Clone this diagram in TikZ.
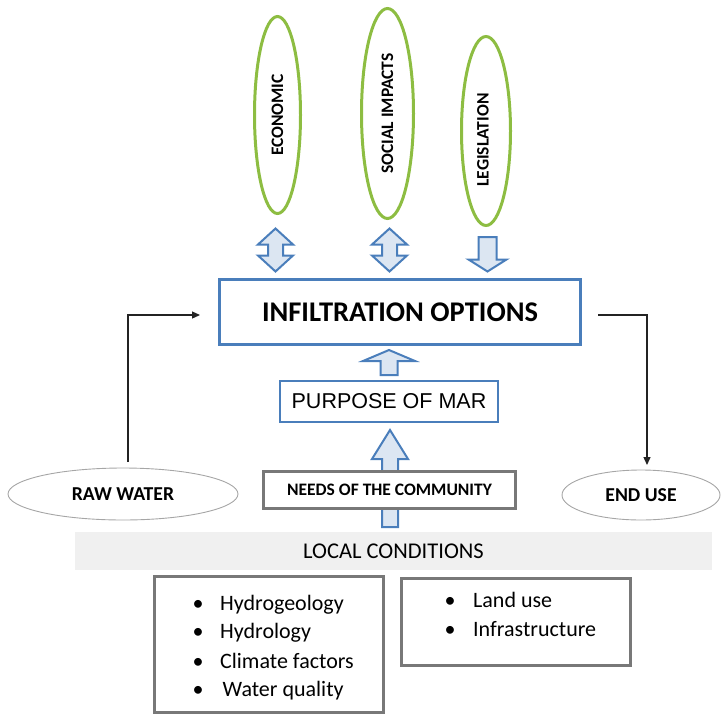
\documentclass[tikz,border=0pt]{standalone}
\usepackage{fontspec}
\setmainfont{Carlito}
\newfontfamily\arialface{Liberation Sans}
\usetikzlibrary{shapes.geometric,arrows.meta}

\definecolor{mblue}{RGB}{74,126,187}
\definecolor{lblue}{RGB}{220,230,242}
\definecolor{leaf}{RGB}{141,189,66}
\definecolor{boxgray}{RGB}{120,120,120}
\definecolor{bandgray}{RGB}{240,240,240}
\definecolor{ink}{RGB}{35,35,35}

% vertical double block arrow: centre x, top tip y, bottom tip y, shaft half, head half, head length
\newcommand\blkdouble[6]{%
  \draw[blk] (#1,#2) -- ++(#5,#6) -- ++(-#5+#4,0) -- (#1+#4,#3-#6) -- ++(#5-#4,0)
    -- (#1,#3) -- ++(-#5,-#6) -- ++(#5-#4,0) -- (#1-#4,#2+#6) -- ++(-#5+#4,0) -- cycle;}
% vertical single block arrow pointing up: centre x, tip y, tail y, shaft half, head half, head length
\newcommand\blkup[6]{%
  \draw[blk] (#1,#2) -- ++(#5,#6) -- ++(-#5+#4,0) -- (#1+#4,#3) -- (#1-#4,#3)
    -- (#1-#4,#2+#6) -- ++(-#5+#4,0) -- cycle;}
% vertical single block arrow pointing down: centre x, tail y, tip y, shaft half, head half, head length
\newcommand\blkdown[6]{%
  \draw[blk] (#1,#3) -- ++(#5,-#6) -- ++(-#5+#4,0) -- (#1+#4,#2) -- (#1-#4,#2)
    -- (#1-#4,#3-#6) -- ++(-#5+#4,0) -- cycle;}

\tikzset{
  blk/.style={draw=mblue, fill=lblue, line width=2pt, line join=miter},
  blbox/.style={draw=mblue, fill=white, rectangle, inner sep=0pt},
  grbox/.style={draw=boxgray, fill=white, rectangle, line width=3pt, inner sep=0pt},
  greenell/.style={draw=leaf, ellipse, line width=3pt, inner sep=0pt,
    font=\fontsize{17.5}{19}\selectfont\bfseries},
  greyell/.style={draw=gray!70, fill=white, ellipse, line width=0.9pt, inner sep=0pt,
    font=\fontsize{19.7}{21}\selectfont\bfseries},
  conn/.style={draw=ink, line width=1.3pt, -{Triangle[length=8pt,width=7pt]}},
  item/.style={anchor=base west, inner sep=0pt, font=\fontsize{22}{24}\selectfont},
}

\begin{document}
\begin{tikzpicture}[x=1pt, y=-1pt]
\useasboundingbox (0,0) rectangle (723,716);

% factors above the options
\node[greenell, rotate=90, minimum width=197, minimum height=46] (econ) at (277.5,115) {ECONOMIC};
\node[greenell, rotate=90, minimum width=210, minimum height=52] (soc) at (387.5,113.5) {SOCIAL IMPACTS};
\node[greenell, minimum width=49, minimum height=189] (leg) at (486,131) {};
\node[rotate=90, inner sep=0pt, font=\fontsize{17.5}{19}\selectfont\bfseries] (legtxt) at (483,140) {LEGISLATION};

% block arrows between factors and options
\blkdouble{275.5}{228.5}{271.5}{7.5}{17.5}{16}
\blkdouble{389.5}{228.5}{271.5}{7.5}{17.5}{16}
\blkdown{487.5}{237}{271.5}{9}{19}{12}

% central boxes
\node[blbox, line width=3pt, minimum width=361, minimum height=65,
      font=\fontsize{28.5}{30}\selectfont\bfseries] (inf) at (400,312) {INFILTRATION OPTIONS};
\blkup{389}{350}{375}{8.5}{26}{11}
\node[blbox, line width=2.5pt, minimum width=218, minimum height=41,
      font=\arialface\fontsize{21.5}{23}\selectfont] (pur) at (389,401.5) {PURPOSE OF MAR};
\blkup{390}{430}{527}{8}{18}{29}
\node[grbox, minimum width=252, minimum height=37,
      font=\fontsize{17.5}{19}\selectfont\bfseries] (need) at (389.5,489.5) {NEEDS OF THE COMMUNITY};

% water in and out
\node[greyell, minimum width=230, minimum height=52] (raw) at (123,494) {RAW WATER};
\node[greyell, minimum width=158, minimum height=50] (end) at (641,495) {END USE};
\coordinate (rawtop) at (128,462);
\coordinate (infin) at (200,315);
\coordinate (infout) at (598,315);
\coordinate (endtop) at (647,465);
\draw[conn] (rawtop) |- (infin);
\draw[conn] (infout) -| (endtop);

% local conditions
\node[fill=bandgray, rectangle, inner sep=0pt, minimum width=637, minimum height=38,
      font=\fontsize{22.5}{24}\selectfont] (loc) at (393.5,551) {LOCAL CONDITIONS};
\node[grbox, minimum width=229, minimum height=136] (lbox) at (269,644.5) {};
\node[grbox, minimum width=229, minimum height=87] (rbox) at (516,622) {};

\node[item] (i1) at (192.5,610) {\makebox[27.5pt][l]{\textbullet}Hydrogeology};
\node[item] (i2) at (192.5,638.5) {\makebox[27.5pt][l]{\textbullet}Hydrology};
\node[item] (i3) at (192.5,668) {\makebox[27.5pt][l]{\textbullet}Climate factors};
\node[item] (i4) at (192.5,696.5) {\makebox[30pt][l]{\textbullet}Water quality};
\node[item] (j1) at (444.5,607) {\makebox[28.5pt][l]{\textbullet}Land use};
\node[item] (j2) at (444.5,636.5) {\makebox[28.5pt][l]{\textbullet}Infrastructure};
\end{tikzpicture}
\end{document}
